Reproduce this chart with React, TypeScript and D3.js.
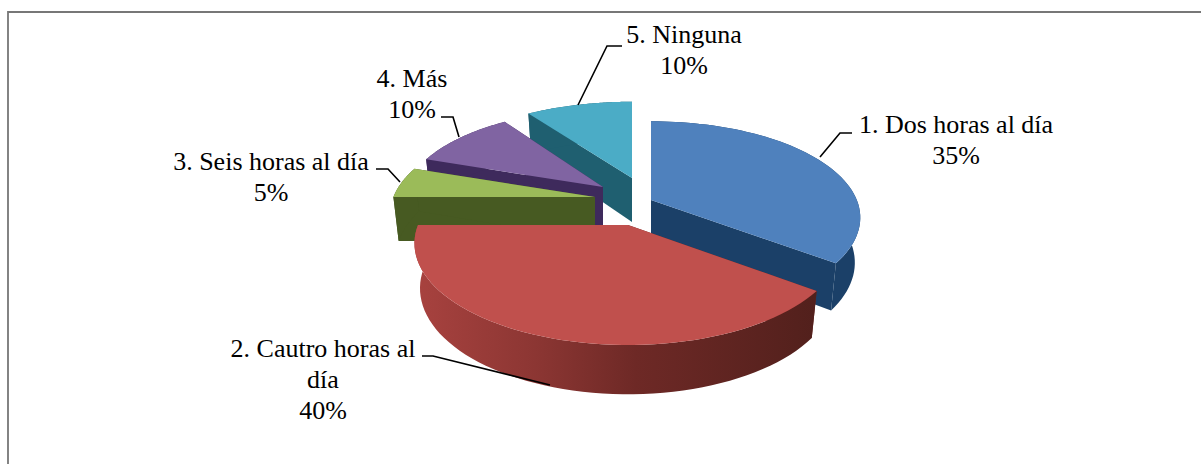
import React from "react";
import * as d3 from "d3";

const categories = ["1. Dos horas al día", "2. Cautro horas al día", "3. Seis horas al día", "4. Más", "5. Ninguna"];
const values = [35, 40, 5, 10, 10];
const percentLabels = ["35%", "40%", "5%", "10%", "10%"];
const topColors = ["#4F81BD", "#C0504D", "#9BBB59", "#8064A2", "#4BACC6"];
const sideColors = ["#1B4068", "url(#redWall)", "#475A22", "#3E2A5C", "#1F5F70"];
const faceColors = ["#1B4068", "#6B2522", "#475A22", "#3E2A5C", "#1F5F70"];

// layout of the exploded slices
const apexX = [651, 628, 595, 603, 632];
const apexY = [200, 225, 197, 187, 178];
const sliceScale = [0.96, 1, 0.96, 0.94, 0.93];
const sliceWidth = [0.98, 1, 0.96, 0.94, 0.99];
const R = 210, K = 0.481, P = 0.188, HEIGHT = 44, SHRINK = 0.026;

const labelLines: string[][] = [[categories[0], percentLabels[0]], ["2. Cautro horas al", "día", percentLabels[1]], [categories[2], percentLabels[2]], [categories[3], percentLabels[3]], [categories[4], percentLabels[4]]];
const labelX = [956, 323, 271, 412, 684];
const labelY = [133, 357, 170, 87, 43];
const leaders: [number, number][][] = [
  [[820, 157], [840, 133], [852, 133]],
  [[422, 356], [433, 356], [550, 385]],
  [[376, 169], [388, 169], [400, 182]],
  [[441, 117], [453, 117], [459, 137]],
  [[578, 105], [607, 46], [622, 46]],
];

function project(i: number, theta: number, r: number, z: number): [number, number] {
  const u = r * Math.sin(theta);
  const v = -r * Math.cos(theta);
  const s = 1 + (P * v) / R;
  const h = HEIGHT * (1 + (0.12 * v) / R);
  return [apexX[i] + u * s * sliceWidth[i] * (1 - SHRINK * z), apexY[i] + v * K * s * sliceScale[i] + z * h];
}

export default function App() {
  const arcs = d3.pie<number>().sort(null)(values);
  const line = d3.line();
  const order = [4, 3, 2, 0, 1];
  const rim = (i: number, z: number) => {
    const a = arcs[i];
    return d3.range(0, 61).map((k) => project(i, a.startAngle + ((a.endAngle - a.startAngle) * k) / 60, R, z));
  };
  const face = (i: number, th: number) => [project(i, th, 0, 0), project(i, th, R, 0), project(i, th, R, 1), project(i, th, 0, 1)] as [number, number][];
  return (
    <svg width={1201} height={464} style={{ position: "absolute", left: 0, top: 0, background: "#fff" }}>
      <defs>
        <linearGradient id="redWall" gradientUnits="userSpaceOnUse" x1={415} x2={816} y1={0} y2={0}>
          <stop offset="0" stopColor="#A8423F" />
          <stop offset="0.3" stopColor="#8C3633" />
          <stop offset="0.55" stopColor="#6E2926" />
          <stop offset="1" stopColor="#52201C" />
        </linearGradient>
      </defs>
      <path d="M8 464V12H1201" fill="none" stroke="#777" strokeWidth={1.8} />
      {order.map((i) => {
        const a = arcs[i];
        return (
          <g key={i}>
            <path d={line(face(i, a.startAngle)) + "Z"} fill={faceColors[i]} />
            <path d={line(face(i, a.endAngle)) + "Z"} fill={faceColors[i]} />
            <path d={line([...rim(i, 0), ...rim(i, 1).reverse()]) + "Z"} fill={sideColors[i]} />
            <path d={line([project(i, 0, 0, 0), ...rim(i, 0)]) + "Z"} fill={topColors[i]} />
          </g>
        );
      })}
      {leaders.map((l, i) => (
        <path key={i} d={line(l) ?? ""} fill="none" stroke="#000" strokeWidth={1.6} />
      ))}
      {labelLines.map((lines, i) => (
        <text key={i} textAnchor="middle" fontFamily="'Liberation Serif'" fontSize={26} fill="#000">
          {lines.map((t, j) => (
            <tspan key={j} x={labelX[i]} y={labelY[i] + j * 31}>{t}</tspan>
          ))}
        </text>
      ))}
    </svg>
  );
}
